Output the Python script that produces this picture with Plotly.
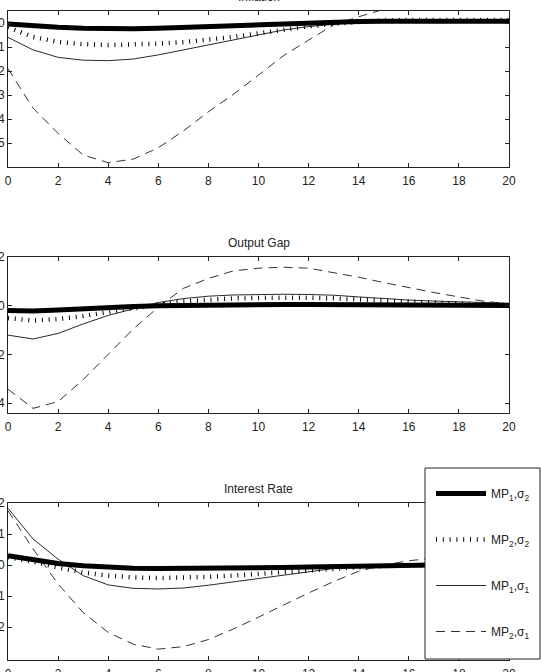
import plotly.graph_objects as go

t = list(range(21))

# Inflation
infl_mp1s2 = [-0.004,-0.012,-0.018,-0.022,-0.024,-0.024,-0.022,-0.018,-0.013,-0.009,-0.005,-0.002,0.001,0.004,0.006,0.007,0.007,0.007,0.007,0.007,0.007]
infl_mp2s2 = [-0.018,-0.058,-0.079,-0.088,-0.092,-0.091,-0.086,-0.080,-0.071,-0.058,-0.043,-0.028,-0.014,-0.003,0.006,0.011,0.013,0.014,0.014,0.014,0.013]
infl_mp1s1 = [-0.060,-0.112,-0.143,-0.155,-0.157,-0.150,-0.133,-0.112,-0.092,-0.068,-0.047,-0.029,-0.015,-0.004,0.004,0.009,0.011,0.012,0.012,0.012,0.011]
infl_mp2s1 = [-0.190,-0.355,-0.460,-0.550,-0.582,-0.567,-0.520,-0.450,-0.370,-0.297,-0.217,-0.136,-0.071,-0.008,0.026,0.057,0.080,0.096,0.105,0.108,0.106]

# Output gap
gap_mp1s2 = [-0.020,-0.022,-0.018,-0.012,-0.007,-0.003,0.000,0.002,0.004,0.005,0.005,0.005,0.005,0.005,0.004,0.004,0.003,0.003,0.002,0.002,0.001]
gap_mp2s2 = [-0.051,-0.061,-0.055,-0.043,-0.026,-0.013,0.004,0.018,0.026,0.030,0.032,0.033,0.033,0.030,0.025,0.020,0.015,0.011,0.008,0.005,0.004]
gap_mp1s1 = [-0.121,-0.137,-0.114,-0.075,-0.040,-0.013,0.013,0.029,0.039,0.044,0.047,0.047,0.046,0.043,0.036,0.029,0.023,0.019,0.016,0.012,0.010]
gap_mp2s1 = [-0.343,-0.422,-0.394,-0.304,-0.200,-0.096,-0.006,0.071,0.112,0.143,0.154,0.158,0.154,0.136,0.117,0.095,0.074,0.054,0.036,0.018,0.008]

# Interest rate
int_mp1s2 = [0.030,0.016,0.005,-0.002,-0.008,-0.010,-0.011,-0.011,-0.010,-0.010,-0.009,-0.008,-0.006,-0.004,-0.002,-0.001,0.000,0.000,0.000,0.000,0.000]
int_mp2s2 = [0.025,0.011,-0.008,-0.024,-0.034,-0.040,-0.042,-0.041,-0.038,-0.034,-0.028,-0.023,-0.018,-0.012,-0.007,-0.003,-0.001,0.000,0.001,0.001,0.001]
int_mp1s1 = [0.183,0.084,0.019,-0.034,-0.064,-0.075,-0.077,-0.074,-0.065,-0.054,-0.043,-0.031,-0.020,-0.011,-0.005,-0.001,0.001,0.002,0.003,0.003,0.003]
int_mp2s1 = [0.175,0.052,-0.061,-0.153,-0.217,-0.255,-0.271,-0.263,-0.240,-0.206,-0.168,-0.128,-0.090,-0.053,-0.020,0.000,0.014,0.022,0.026,0.027,0.026]

titles = ["Inflation", "Output Gap", "Interest Rate"]
names = ["MP<sub>1</sub>,σ<sub>2</sub>", "MP<sub>2</sub>,σ<sub>2</sub>",
         "MP<sub>1</sub>,σ<sub>1</sub>", "MP<sub>2</sub>,σ<sub>1</sub>"]
xticks = list(range(0, 21, 2))

panels = [
    dict(data=[infl_mp1s2, infl_mp2s2, infl_mp1s1, infl_mp2s1], yr=[-0.6, 0.05],
         yt=[-0.5, -0.4, -0.3, -0.2, -0.1, 0.0]),
    dict(data=[gap_mp1s2, gap_mp2s2, gap_mp1s1, gap_mp2s1], yr=[-0.441, 0.2],
         yt=[-0.4, -0.2, 0.0, 0.2]),
    dict(data=[int_mp1s2, int_mp2s2, int_mp1s1, int_mp2s1], yr=[-0.306, 0.2],
         yt=[-0.2, -0.1, 0.0, 0.1, 0.2]),
]

styles = [
    dict(color="black", width=5, dash="solid"),
    dict(color="black", width=4.5, dash="1px,5.8px"),
    dict(color="#2a2a2a", width=1, dash="solid"),
    dict(color="#333333", width=1, dash="9px,6px"),
]

W, H = 542, 672
FONT = "Liberation Sans, Arial"
xdom = [8 / W, 509 / W]
ydoms = [[1 - 167 / H, 1 - 11 / H], [1 - 413 / H, 1 - 257 / H], [1 - 660 / H, 1 - 503 / H]]

fig = go.Figure()
draw_order = [3, 2, 1, 0]
for p, panel in enumerate(panels):
    xa = "x" if p == 0 else f"x{p+1}"
    ya = "y" if p == 0 else f"y{p+1}"
    for k in draw_order:
        fig.add_trace(go.Scatter(
            x=t, y=panel["data"][k], mode="lines", name=names[k],
            line=styles[k], xaxis=xa, yaxis=ya,
            showlegend=(p == 2), legendgroup=f"g{k}", legendrank=k + 1,
        ))

axis_common = dict(showline=True, linecolor="#222222", linewidth=1, mirror="ticks",
                   ticks="inside", ticklen=4, tickcolor="#222222", tickwidth=1,
                   showgrid=False, zeroline=False, automargin=False,
                   tickfont=dict(family=FONT, size=12, color="#222222"))

layout = dict(
    width=W, height=H, margin=dict(l=0, r=0, t=0, b=0),
    paper_bgcolor="white", plot_bgcolor="white", template="none",
    font=dict(family=FONT, size=12, color="#222222"),
    legend=dict(x=431 / W, y=1 - 479 / H, xanchor="left", yanchor="top",
                borderwidth=0, bgcolor="rgba(0,0,0,0)",
                tracegroupgap=27, traceorder="grouped", itemwidth=50,
                font=dict(family=FONT, size=12, color="#222222")),
    shapes=[dict(type="rect", xref="paper", yref="paper",
                 x0=425 / W, x1=540 / W, y0=1 - 659 / H, y1=1 - 468 / H,
                 line=dict(color="#222222", width=1), fillcolor="white", layer="above")],
    annotations=[],
)
for p, panel in enumerate(panels):
    sfx = "" if p == 0 else str(p + 1)
    layout[f"xaxis{sfx}"] = dict(axis_common, domain=xdom, range=[0, 20], tickvals=xticks,
                                 anchor=f"y{sfx}", ticklabelstandoff=3)
    layout[f"yaxis{sfx}"] = dict(axis_common, domain=ydoms[p], range=panel["yr"],
                                 tickvals=panel["yt"], anchor=f"x{sfx}")
    layout["annotations"].append(dict(
        text=titles[p], x=(xdom[0] + xdom[1]) / 2, y=ydoms[p][1], xref="paper", yref="paper",
        yshift=5, xanchor="center", yanchor="bottom", showarrow=False,
        font=dict(family=FONT, size=12, color="#222222")))

fig.update_layout(**layout)
fig.write_html("out.html")
